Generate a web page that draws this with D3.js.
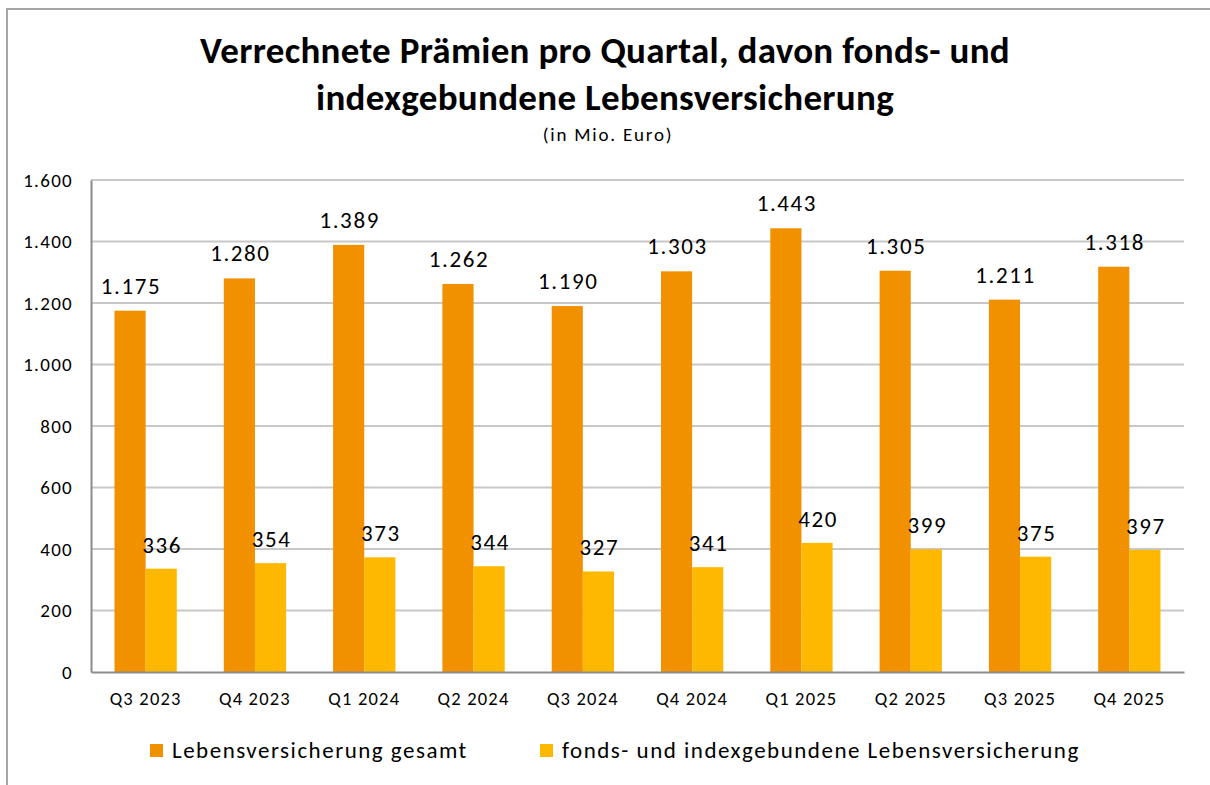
<!DOCTYPE html>
<html>
<head>
<meta charset="utf-8">
<script src="https://cdn.jsdelivr.net/npm/d3@7"></script>
<style>
  body { margin: 0; background: #fff; }
  svg text { font-family: Carlito, Lato, sans-serif; fill: #000; }
</style>
</head>
<body>
<svg id="chart" width="1210" height="785"></svg>
<script>
var quarters = ['Q3 2023', 'Q4 2023', 'Q1 2024', 'Q2 2024', 'Q3 2024', 'Q4 2024', 'Q1 2025', 'Q2 2025', 'Q3 2025', 'Q4 2025'];
var gesamt = [1175, 1280, 1389, 1262, 1190, 1303, 1443, 1305, 1211, 1318];
var fonds = [336, 354, 373, 344, 327, 341, 420, 399, 375, 397];
var seriesNames = ['Lebensversicherung gesamt', 'fonds- und indexgebundene Lebensversicherung'];
var yTicks = [0, 200, 400, 600, 800, 1000, 1200, 1400, 1600];
var colors = ['#f29100', '#ffb800'];

var de = d3.formatLocale({decimal: ',', thousands: '.', grouping: [3], currency: ['', ' €']});
var fmt = de.format(',d');

var svg = d3.select('#chart');
// plot area (note: "top" is reserved on window, so use other names)
var plotL = 91, plotR = 1184, plotT = 180, plotB = 672;

// outer frame (only left and top edges are visible in the picture)
svg.append('path')
  .attr('d', 'M7,785 V9 H1210')
  .attr('fill', 'none')
  .attr('stroke', '#a6a6a6')
  .attr('stroke-width', 2);

// title
var title = svg.append('g').attr('text-anchor', 'middle');
title.append('text').attr('x', 605).attr('y', 63)
  .style('font-weight', 'bold').style('font-size', '37px').style('letter-spacing', '0.3px')
  .text('Verrechnete Prämien pro Quartal, davon fonds- und');
title.append('text').attr('x', 605).attr('y', 110)
  .style('font-weight', 'bold').style('font-size', '37px').style('letter-spacing', '0.3px')
  .text('indexgebundene Lebensversicherung');
title.append('text').attr('x', 608).attr('y', 141)
  .style('font-size', '19px').style('letter-spacing', '1.8px')
  .text('(in Mio. Euro)');

var x0 = d3.scaleBand().domain(quarters).range([plotL, plotR]).paddingInner(0.43).paddingOuter(0.215);
var x1 = d3.scaleBand().domain([0, 1]).range([0, x0.bandwidth()]);
var y = d3.scaleLinear().domain([0, 1600]).range([plotB, plotT]);

// gridlines
svg.append('g').selectAll('line')
  .data(yTicks.filter(function(d) { return d > 0; }))
  .enter().append('line')
  .attr('x1', plotL).attr('x2', plotR)
  .attr('y1', function(d) { return y(d); })
  .attr('y2', function(d) { return y(d); })
  .attr('stroke', '#c8c8c8')
  .attr('stroke-width', 2);

// y axis
var yAxis = svg.append('g')
  .attr('transform', 'translate(' + plotL + ',0)')
  .call(d3.axisLeft(y).tickValues(yTicks).tickFormat(fmt).tickSize(0).tickPadding(18));
yAxis.select('.domain').attr('stroke', '#8c8c8c').attr('stroke-width', 2);
yAxis.selectAll('text').style('font-size', '19px').style('letter-spacing', '1.3px').attr('fill', '#000');

// bars
var rows = quarters.map(function(q, i) { return {q: q, vals: [gesamt[i], fonds[i]]}; });
var groups = svg.append('g').selectAll('g')
  .data(rows)
  .enter().append('g')
  .attr('transform', function(d) { return 'translate(' + x0(d.q) + ',0)'; });

groups.selectAll('rect')
  .data(function(d) { return d.vals; })
  .enter().append('rect')
  .attr('x', function(d, i) { return x1(i); })
  .attr('width', x1.bandwidth())
  .attr('y', function(d) { return y(d); })
  .attr('height', function(d) { return plotB - y(d); })
  .attr('fill', function(d, i) { return colors[i]; });

groups.selectAll('text')
  .data(function(d) { return d.vals; })
  .enter().append('text')
  .attr('text-anchor', 'middle')
  .attr('x', function(d, i) { return x1(i) + x1.bandwidth() / 2 + 1; })
  .attr('y', function(d, i) { return y(d) - (i == 0 ? 17 : 16); })
  .style('font-size', '23px')
  .style('letter-spacing', '1.6px')
  .text(function(d) { return fmt(d); });

// x axis
var xAxis = svg.append('g')
  .attr('transform', 'translate(0,' + plotB + ')')
  .call(d3.axisBottom(x0).tickSize(0).tickPadding(20).tickSizeOuter(0));
xAxis.select('.domain').attr('stroke', '#8c8c8c').attr('stroke-width', 2);
xAxis.selectAll('text').style('font-size', '18.5px').style('letter-spacing', '1.2px').attr('fill', '#000');

// legend
var legendX = [150, 540];
var legend = svg.append('g').selectAll('g')
  .data(seriesNames)
  .enter().append('g')
  .attr('transform', function(d, i) { return 'translate(' + legendX[i] + ',744)'; });
legend.append('rect')
  .attr('width', 13).attr('height', 13)
  .attr('fill', function(d, i) { return colors[i]; });
legend.append('text')
  .attr('x', 22).attr('y', 14)
  .style('font-size', '23px')
  .style('letter-spacing', '1.5px')
  .text(function(d) { return d; });
</script>
</body>
</html>
